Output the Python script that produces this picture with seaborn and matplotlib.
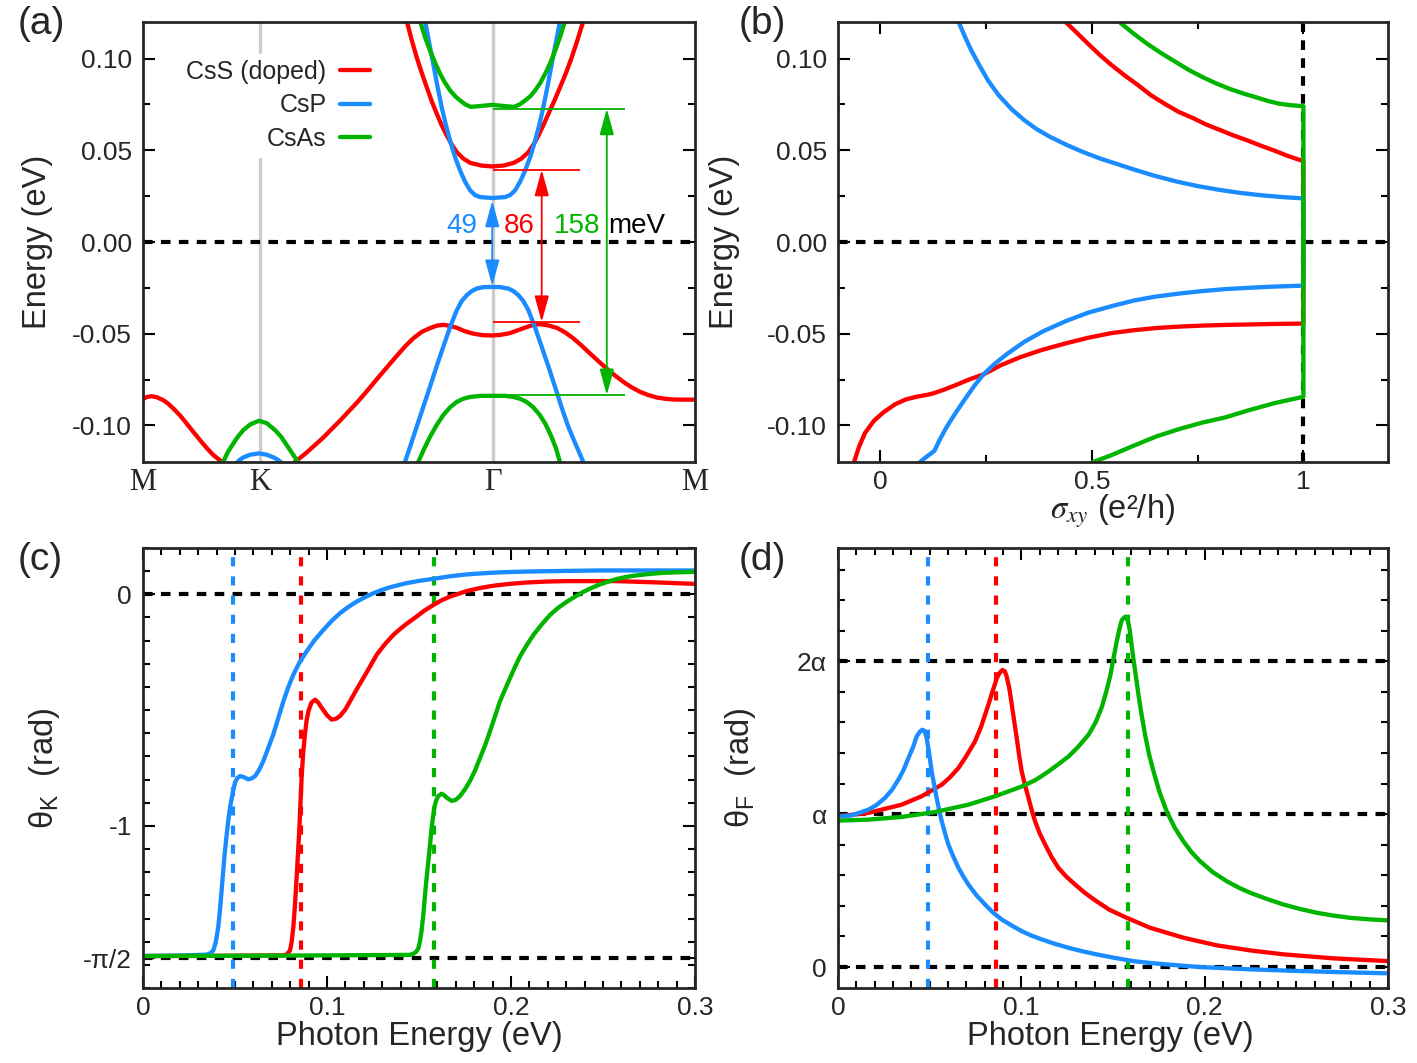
import matplotlib
matplotlib.use('Agg')
import matplotlib.pyplot as plt
import seaborn as sns
import numpy as np
import pandas as pd
from matplotlib.lines import Line2D
from matplotlib.ticker import MultipleLocator, FixedLocator, FixedFormatter

# ------------------------------------------------------------------ data
# (a) band structure: k-path coordinates M=0, K=0.5, Gamma=1.5, M=2.366
K_POS = [0.0, 0.5, 1.5, 2.366]
K_LABELS = ['M', 'K', 'Γ', 'M']

red_vb_k = [0.000, 0.018, 0.037, 0.060, 0.087, 0.108, 0.130, 0.158, 0.187, 0.215, 0.244, 0.272,
            0.301, 0.344, 0.40, 0.50, 0.60, 0.647, 0.700, 0.770, 0.844, 0.920, 0.960, 1.000,
            1.043, 1.087, 1.123, 1.159, 1.195, 1.230, 1.260, 1.287,
            1.316, 1.345, 1.380, 1.416, 1.455, 1.497, 1.535, 1.573, 1.610, 1.644, 1.672, 1.701,
            1.737, 1.773, 1.808, 1.844, 1.880, 1.916, 1.952, 1.987, 2.023, 2.059, 2.095, 2.130,
            2.166, 2.202, 2.237, 2.273, 2.320, 2.366]
red_vb_e = [-0.0856, -0.0845, -0.0841, -0.0847, -0.0863, -0.0882, -0.0908, -0.0945, -0.0990,
            -0.1035, -0.1080, -0.1122, -0.1162, -0.1204, -0.130, -0.133, -0.130, -0.1204,
            -0.1150, -0.1070, -0.0975, -0.0872, -0.0813, -0.0752, -0.0687, -0.0622, -0.0570,
            -0.0525, -0.0490, -0.0470, -0.0456, -0.0452,
            -0.0457, -0.0468, -0.0487, -0.0500, -0.0508, -0.0510, -0.0506, -0.0497, -0.0480,
            -0.0464, -0.0453, -0.0448, -0.0455, -0.0468, -0.0492, -0.0525, -0.0565, -0.0608,
            -0.0650, -0.0690, -0.0728, -0.0763, -0.0793, -0.0817, -0.0835, -0.0848, -0.0855,
            -0.0859, -0.0860, -0.0860]

blue_vb_k = [1.100, 1.123, 1.148, 1.173, 1.200, 1.230, 1.258, 1.287, 1.316, 1.345, 1.366, 1.388,
             1.409, 1.430, 1.460, 1.497, 1.530, 1.566, 1.588, 1.609, 1.630, 1.652, 1.680, 1.709,
             1.738, 1.766, 1.795, 1.823, 1.855, 1.887, 1.910]
blue_vb_e = [-0.126, -0.1199, -0.1105, -0.1008, -0.0905, -0.0790, -0.0680, -0.0572, -0.0465,
             -0.0372, -0.0322, -0.0290, -0.0268, -0.0254, -0.0246, -0.0245, -0.0246, -0.0254,
             -0.0268, -0.0290, -0.0322, -0.0372, -0.0465, -0.0572, -0.0680, -0.0790, -0.0905,
             -0.1008, -0.1105, -0.1199, -0.126]
blue_k_k = [0.370, 0.402, 0.415, 0.430, 0.460, 0.497, 0.530, 0.560, 0.578, 0.594, 0.620]
blue_k_e = [-0.126, -0.1204, -0.1188, -0.1175, -0.1160, -0.1153, -0.1160, -0.1175, -0.1188,
            -0.1204, -0.126]

green_vb_k = [1.160, 1.180, 1.205, 1.230, 1.258, 1.287, 1.316, 1.345, 1.373, 1.402, 1.450, 1.497,
              1.550, 1.587, 1.616, 1.644, 1.673, 1.701, 1.726, 1.751, 1.770, 1.787, 1.800]
green_vb_e = [-0.126, -0.1199, -0.1128, -0.1063, -0.1000, -0.0944, -0.0902, -0.0872, -0.0855,
              -0.0845, -0.0839, -0.0839, -0.0839, -0.0845, -0.0855, -0.0872, -0.0902, -0.0944,
              -0.0995, -0.1063, -0.1125, -0.1199, -0.126]
green_k_k = [0.320, 0.342, 0.364, 0.387, 0.408, 0.430, 0.460, 0.497, 0.530, 0.566, 0.592, 0.616,
             0.641, 0.666, 0.690]
green_k_e = [-0.126, -0.1204, -0.1145, -0.1099, -0.1060, -0.1026, -0.0995, -0.0975, -0.0988,
             -0.1026, -0.1062, -0.1108, -0.1155, -0.1204, -0.126]

red_cb_k = [1.130, 1.151, 1.173, 1.195, 1.216, 1.237, 1.259, 1.280, 1.302, 1.323, 1.345, 1.373,
            1.402, 1.450, 1.497, 1.545, 1.590, 1.622, 1.652, 1.674, 1.695, 1.716, 1.738, 1.763,
            1.788, 1.813, 1.838, 1.863, 1.888]
red_cb_e = [0.1208, 0.1105, 0.1008, 0.0922, 0.0845, 0.0770, 0.0700, 0.0637, 0.0581, 0.0532,
            0.0490, 0.0455, 0.0432, 0.0417, 0.0412, 0.0417, 0.0432, 0.0455, 0.0490, 0.0532,
            0.0581, 0.0637, 0.0700, 0.0770, 0.0845, 0.0922, 0.1008, 0.1105, 0.1208]
blue_cb_k = [1.209, 1.226, 1.244, 1.262, 1.280, 1.298, 1.316, 1.337, 1.359, 1.380, 1.402, 1.423,
             1.445, 1.497, 1.552, 1.574, 1.595, 1.617, 1.638, 1.660, 1.681, 1.699, 1.716, 1.734,
             1.752, 1.770, 1.788]
blue_cb_e = [0.1208, 0.1090, 0.0972, 0.0850, 0.0736, 0.0640, 0.0554, 0.0465, 0.0390, 0.0330,
             0.0282, 0.0256, 0.0245, 0.0240, 0.0245, 0.0256, 0.0282, 0.0330, 0.0390, 0.0465,
             0.0554, 0.0640, 0.0736, 0.0850, 0.0972, 0.1090, 0.1208]
green_cb_k = [1.187, 1.208, 1.230, 1.252, 1.273, 1.295, 1.316, 1.338, 1.359, 1.382, 1.405, 1.450,
              1.497, 1.545, 1.590, 1.614, 1.638, 1.660, 1.681, 1.703, 1.724, 1.746, 1.767, 1.788,
              1.809]
green_cb_e = [0.1208, 0.1120, 0.1045, 0.0978, 0.0918, 0.0868, 0.0827, 0.0795, 0.0772, 0.0750,
              0.0737, 0.0742, 0.0748, 0.0742, 0.0737, 0.0750, 0.0772, 0.0795, 0.0827, 0.0868,
              0.0918, 0.0978, 0.1045, 0.1120, 0.1208]

# gap annotations in (a): order blue, red, green
gap_labels = ['49', '86', '158']
gap_arrow_k = [1.497, 1.709, 1.988]
gap_top = [0.0225, 0.0394, 0.0727]
gap_bot = [-0.0240, -0.0436, -0.0835]
gap_line_end = [None, 1.873, 2.066]
gap_text_k = [1.366, 1.612, 1.859]
mev_text_k = 2.117
gap_text_e = 0.0087

# (b) sigma_xy vs energy (lower branch -> step at sigma=1 -> upper branch)
blue_sig = [0.094, 0.110, 0.128, 0.140, 0.158, 0.180, 0.201, 0.222, 0.244, 0.270, 0.300, 0.340,
            0.384, 0.440, 0.492, 0.550, 0.600, 0.650, 0.707, 0.760, 0.815, 0.870, 0.922, 0.960,
            1.000,
            1.000, 0.950, 0.900, 0.850, 0.800, 0.750, 0.700, 0.650, 0.600, 0.560, 0.520, 0.480,
            0.440, 0.400, 0.370, 0.340, 0.310, 0.280, 0.255, 0.235, 0.215, 0.200, 0.185]
blue_sig_e = [-0.120, -0.1170, -0.1139, -0.1080, -0.1004, -0.0925, -0.0854, -0.0785, -0.0722,
              -0.0665, -0.0610, -0.0545, -0.0488, -0.0430, -0.0385, -0.0348, -0.0319, -0.0298,
              -0.0281, -0.0268, -0.0257, -0.0250, -0.0244, -0.0241, -0.0238,
              0.0238, 0.0245, 0.0255, 0.0268, 0.0285, 0.0305, 0.0330, 0.0360, 0.0395, 0.0425,
              0.0455, 0.0490, 0.0530, 0.0575, 0.0615, 0.0665, 0.0725, 0.0800, 0.0880, 0.0960,
              0.1045, 0.1120, 0.1200]
red_sig = [-0.062, -0.050, -0.036, -0.015, 0.0075, 0.035, 0.061, 0.090, 0.110, 0.126, 0.150,
           0.180, 0.210, 0.244, 0.285, 0.330, 0.380, 0.438, 0.490, 0.546, 0.600, 0.653, 0.710,
           0.761, 0.820, 0.869, 0.930, 1.000,
           1.000, 0.965, 0.933, 0.900, 0.869, 0.835, 0.804, 0.770, 0.740, 0.705, 0.675, 0.640,
           0.610, 0.578, 0.546, 0.518, 0.492, 0.465, 0.438]
red_sig_e = [-0.120, -0.1115, -0.1041, -0.0975, -0.0929, -0.0885, -0.0858, -0.0842, -0.0834,
             -0.0825, -0.0806, -0.0779, -0.0750, -0.0722, -0.0672, -0.0629, -0.0590, -0.0553,
             -0.0523, -0.0497, -0.0481, -0.0469, -0.0461, -0.0456, -0.0452, -0.0450, -0.0447,
             -0.0445,
             0.0441, 0.0468, 0.0497, 0.0525, 0.0553, 0.0581, 0.0610, 0.0641, 0.0675, 0.0710,
             0.0750, 0.0800, 0.0854, 0.0908, 0.0966, 0.1022, 0.1079, 0.1140, 0.1200]
green_sig = [0.503, 0.546, 0.600, 0.653, 0.707, 0.761, 0.815, 0.869, 0.930, 1.000,
             1.000, 0.970, 0.944, 0.918, 0.890, 0.858, 0.826, 0.794, 0.761, 0.728, 0.696, 0.664,
             0.632, 0.598, 0.565]
green_sig_e = [-0.120, -0.1163, -0.1110, -0.1060, -0.1020, -0.0985, -0.0957, -0.0919, -0.0880,
               -0.0844,
               0.0741, 0.0746, 0.0754, 0.0768, 0.0788, 0.0810, 0.0835, 0.0865, 0.0900, 0.0940,
               0.0985, 0.1030, 0.1079, 0.1138, 0.1200]

# gaps (eV), order red, blue, green
gap_energy = [0.086, 0.049, 0.158]

# (c) Kerr angle (rad)
blue_wk = [0.000, 0.020, 0.0346, 0.0365, 0.0382, 0.0396, 0.0409, 0.0421, 0.0433, 0.0444, 0.0455,
           0.0466, 0.0476, 0.0488, 0.0500, 0.0513, 0.0527, 0.0550, 0.0572, 0.0590, 0.0609,
           0.0630, 0.0654, 0.0680, 0.0708, 0.0735, 0.0763, 0.0790, 0.0817, 0.0850, 0.0889,
           0.0930, 0.0980, 0.1025, 0.1070, 0.1115, 0.1160, 0.1205, 0.1250, 0.1295, 0.1340,
           0.1430, 0.1500, 0.1580, 0.1670, 0.1760, 0.1850, 0.1940, 0.2070, 0.2210, 0.2480,
           0.3000]
blue_tk = [-1.562, -1.560, -1.556, -1.550, -1.538, -1.500, -1.437, -1.340, -1.222, -1.120,
           -1.036, -0.960, -0.907, -0.855, -0.813, -0.793, -0.785, -0.790, -0.799, -0.795,
           -0.785, -0.760, -0.720, -0.665, -0.605, -0.535, -0.462, -0.400, -0.347, -0.295,
           -0.247, -0.200, -0.154, -0.115, -0.082, -0.055, -0.032, -0.013, 0.004, 0.018, 0.030,
           0.048, 0.058, 0.067, 0.078, 0.086, 0.091, 0.095, 0.098, 0.100, 0.103, 0.103]
red_wk = [0.000, 0.040, 0.076, 0.078, 0.0799, 0.0808, 0.0817, 0.0826, 0.0835, 0.0843, 0.0850,
          0.0856, 0.0862, 0.0870, 0.0880, 0.0889, 0.0899, 0.0915, 0.0935, 0.0953, 0.0971,
          0.1000, 0.1025, 0.1050, 0.1070, 0.1100, 0.1125, 0.1160, 0.1198, 0.1235, 0.1270,
          0.1315, 0.1361, 0.1397, 0.1433, 0.1487, 0.1530, 0.1578, 0.1620, 0.1668, 0.1759,
          0.1830, 0.1904, 0.1990, 0.2085, 0.2190, 0.2303, 0.2574, 0.2810, 0.3000]
red_tk = [-1.562, -1.561, -1.559, -1.556, -1.538, -1.500, -1.437, -1.340, -1.222, -1.110,
          -1.007, -0.900, -0.792, -0.690, -0.605, -0.545, -0.505, -0.468, -0.455, -0.468,
          -0.490, -0.522, -0.541, -0.537, -0.526, -0.497, -0.462, -0.412, -0.361, -0.310,
          -0.261, -0.215, -0.175, -0.150, -0.127, -0.096, -0.070, -0.046, -0.027, -0.010,
          0.014, 0.027, 0.037, 0.045, 0.051, 0.055, 0.057, 0.057, 0.051, 0.045]
green_wk = [0.000, 0.080, 0.1450, 0.1469, 0.1483, 0.1496, 0.1505, 0.1514, 0.1524, 0.1533,
            0.1542, 0.1551, 0.1560, 0.1569, 0.1578, 0.1587, 0.1596, 0.1605, 0.1623, 0.1636,
            0.1650, 0.1678, 0.1700, 0.1723, 0.1750, 0.1777, 0.1805, 0.1832, 0.1860, 0.1886,
            0.1913, 0.1940, 0.1968, 0.1995, 0.2022, 0.2049, 0.2085, 0.2122, 0.2167, 0.2212,
            0.2257, 0.2303, 0.2348, 0.2394, 0.2439, 0.2484, 0.2529, 0.2574, 0.2620, 0.2665,
            0.2740, 0.2810, 0.2900, 0.3000]
green_tk = [-1.562, -1.560, -1.557, -1.552, -1.545, -1.530, -1.500, -1.452, -1.380, -1.294,
            -1.220, -1.151, -1.080, -1.007, -0.950, -0.907, -0.885, -0.871, -0.861, -0.867,
            -0.878, -0.892, -0.887, -0.871, -0.842, -0.806, -0.760, -0.706, -0.650, -0.591,
            -0.527, -0.462, -0.410, -0.361, -0.313, -0.268, -0.220, -0.175, -0.130, -0.089,
            -0.058, -0.032, -0.010, 0.011, 0.028, 0.043, 0.055, 0.066, 0.074, 0.080, 0.087,
            0.092, 0.095, 0.097]

# (d) Faraday angle in units of alpha
blue_wf = [0.000, 0.0075, 0.0165, 0.0210, 0.0256, 0.0295, 0.0329, 0.0358, 0.0384, 0.0410,
           0.0429, 0.0447, 0.0460, 0.0472, 0.0484, 0.0497, 0.0511, 0.0525, 0.0538, 0.0552,
           0.0566, 0.0584, 0.0602, 0.0630, 0.0657, 0.0684, 0.0711, 0.0755, 0.0802, 0.0845,
           0.0893, 0.0950, 0.1002, 0.1055, 0.1111, 0.1180, 0.1257, 0.1330, 0.1402, 0.1500,
           0.1610, 0.1700, 0.1793, 0.1975, 0.2248, 0.2521, 0.2793, 0.3000]
blue_tf = [0.986, 0.992, 1.029, 1.060, 1.106, 1.160, 1.225, 1.290, 1.367, 1.440, 1.508, 1.540,
           1.552, 1.545, 1.497, 1.400, 1.279, 1.190, 1.106, 1.025, 0.953, 0.875, 0.801, 0.720,
           0.649, 0.592, 0.540, 0.470, 0.409, 0.357, 0.311, 0.270, 0.235, 0.206, 0.181, 0.153,
           0.126, 0.104, 0.085, 0.062, 0.039, 0.027, 0.017, 0.000, -0.015, -0.026, -0.035,
           -0.041]
red_wf = [0.000, 0.0165, 0.0347, 0.0456, 0.0566, 0.0610, 0.0657, 0.0700, 0.0747, 0.0780,
          0.0820, 0.0845, 0.0866, 0.0882, 0.0897, 0.0910, 0.0920, 0.0935, 0.0948, 0.0962,
          0.0975, 0.0988, 0.1002, 0.1020, 0.1039, 0.1057, 0.1075, 0.1100, 0.1130, 0.1165,
          0.1202, 0.1245, 0.1293, 0.1345, 0.1402, 0.1480, 0.1575, 0.1702, 0.1884, 0.2066,
          0.2248, 0.2430, 0.2703, 0.3000]
red_tf = [0.986, 1.008, 1.062, 1.117, 1.193, 1.240, 1.302, 1.380, 1.475, 1.570, 1.715, 1.810,
          1.889, 1.925, 1.943, 1.935, 1.900, 1.820, 1.715, 1.600, 1.497, 1.385, 1.279, 1.190,
          1.106, 1.025, 0.953, 0.875, 0.801, 0.720, 0.649, 0.592, 0.540, 0.487, 0.437, 0.375,
          0.322, 0.257, 0.192, 0.142, 0.109, 0.083, 0.057, 0.039]
green_wf = [0.000, 0.0165, 0.0347, 0.0529, 0.0711, 0.0857, 0.1002, 0.1080, 0.1148, 0.1200,
            0.1257, 0.1310, 0.1366, 0.1405, 0.1439, 0.1463, 0.1484, 0.1503, 0.1520, 0.1535,
            0.1548, 0.1566, 0.1580, 0.1590, 0.1600, 0.1611, 0.1625, 0.1639, 0.1656, 0.1675,
            0.1697, 0.1721, 0.1755, 0.1793, 0.1835, 0.1884, 0.1928, 0.1975, 0.2045, 0.2121,
            0.2185, 0.2248, 0.2340, 0.2430, 0.2520, 0.2612, 0.2700, 0.2793, 0.2900, 0.3000]
green_tf = [0.958, 0.964, 0.982, 1.014, 1.062, 1.117, 1.181, 1.225, 1.279, 1.325, 1.377, 1.440,
            1.519, 1.600, 1.700, 1.800, 1.900, 2.020, 2.128, 2.210, 2.270, 2.291, 2.270, 2.215,
            2.120, 2.019, 1.900, 1.780, 1.650, 1.519, 1.390, 1.279, 1.140, 1.018, 0.915, 0.822,
            0.752, 0.692, 0.620, 0.561, 0.520, 0.486, 0.445, 0.409, 0.380, 0.355, 0.337, 0.322,
            0.312, 0.305]

legend_labels = ['CsS (doped)', 'CsP', 'CsAs']
E_TICKS = [-0.10, -0.05, 0.00, 0.05, 0.10]
E_TICKLABELS = ['-0.10', '-0.05', '0.00', '0.05', '0.10']
SIG_TICKS = [0, 0.5, 1]
SIG_TICKLABELS = ['0', '0.5', '1']
W_TICKS = [0, 0.1, 0.2, 0.3]
W_TICKLABELS = ['0', '0.1', '0.2', '0.3']
TK_TICKS = [-np.pi / 2, -1, 0]
TK_TICKLABELS = ['-π/2', '-1', '0']
TF_TICKS = [0, 1, 2]
TF_TICKLABELS = ['0', 'α', '2α']

# ------------------------------------------------------------------ style
sns.set_style('ticks')
plt.rcParams['font.family'] = ['Liberation Sans', 'DejaVu Sans']
plt.rcParams['mathtext.fontset'] = 'custom'
plt.rcParams['mathtext.rm'] = 'Liberation Sans'
plt.rcParams['mathtext.it'] = 'Liberation Sans:italic'
plt.rcParams['axes.unicode_minus'] = False

RED, BLUE, GREEN = '#ff0000', '#1a8cff', '#00b400'
GRAY = '#cccccc'
TICK, LAB, PANEL, LEG, ANN = 19, 23.5, 28, 18, 20
LW = 3.1
DLW = 3.0
DASH = (2.3, 2.0)
CDASH = (2.2, 2.4)

W, H = 1417, 1063
fig = plt.figure(figsize=(W / 100, H / 100), dpi=100)


def add_axes(l, t, r, b):
    return fig.add_axes([l / W, 1 - b / H, (r - l) / W, (b - t) / H])


axA = add_axes(143, 22, 695, 462)
axB = add_axes(838, 22, 1388, 462)
axC = add_axes(143, 548, 695, 988)
axD = add_axes(838, 548, 1388, 988)


def draw(ax, x, y, color, z=3.0, lw=LW):
    df = pd.DataFrame({'x': x, 'y': y})
    sns.lineplot(data=df, x='x', y='y', sort=False, estimator=None, color=color,
                 linewidth=lw, ax=ax, zorder=z, solid_joinstyle='round')
    ax.set_xlabel('')
    ax.set_ylabel('')


def style_axes(ax):
    for s in ax.spines.values():
        s.set_linewidth(2.0)
        s.set_zorder(10)
    ax.tick_params(which='both', direction='in', top=True, right=True, width=1.5,
                   labelsize=TICK, color='black')
    ax.tick_params(which='major', length=8.5)
    ax.tick_params(which='minor', length=5)
    ax.tick_params(axis='y', pad=8)
    ax.tick_params(axis='x', pad=6)


# ---------------------------------------------------------------- (a)
ax = axA
ax.axvline(K_POS[1], color=GRAY, lw=2.4, zorder=0.8)
ax.axvline(K_POS[2], color=GRAY, lw=2.4, zorder=0.8)
ax.axhline(0, color='black', lw=DLW, dashes=DASH, zorder=1)
draw(ax, red_vb_k, red_vb_e, RED, 3.0)
draw(ax, red_cb_k, red_cb_e, RED, 3.0)
draw(ax, blue_vb_k, blue_vb_e, BLUE, 3.1)
draw(ax, blue_k_k, blue_k_e, BLUE, 3.1)
draw(ax, blue_cb_k, blue_cb_e, BLUE, 3.1)
draw(ax, green_vb_k, green_vb_e, GREEN, 3.2)
draw(ax, green_k_k, green_k_e, GREEN, 3.2)
draw(ax, green_cb_k, green_cb_e, GREEN, 3.2)

arrow_cols = [BLUE, RED, GREEN]
for i, c in enumerate(arrow_cols):
    if gap_line_end[i] is not None:
        ax.hlines([gap_top[i], gap_bot[i]], K_POS[2], gap_line_end[i], color=c, lw=1.3, zorder=4)
    ax.annotate('', xy=(gap_arrow_k[i], gap_bot[i]), xytext=(gap_arrow_k[i], gap_top[i]),
                arrowprops=dict(arrowstyle='<|-|>,head_length=0.8,head_width=0.22', color=c,
                                lw=1.3, shrinkA=0, shrinkB=0, mutation_scale=20), zorder=4)
    ax.text(gap_text_k[i], gap_text_e, gap_labels[i], color=c, fontsize=ANN,
            ha='center', va='center', zorder=5)
ax.text(mev_text_k, gap_text_e, 'meV', color='black', fontsize=ANN, ha='center',
        va='center', zorder=5)

ax.set_xlim(K_POS[0], K_POS[-1])
ax.set_ylim(-0.12, 0.12)
style_axes(ax)
ax.yaxis.set_major_locator(FixedLocator(E_TICKS))
ax.yaxis.set_major_formatter(FixedFormatter(E_TICKLABELS))
ax.yaxis.set_minor_locator(MultipleLocator(0.025))
ax.set_xticks(K_POS)
ax.set_xticklabels(K_LABELS, fontfamily='Liberation Serif', fontsize=22)
ax.tick_params(axis='x', which='both', length=0, top=False, pad=4)

handles = [Line2D([], [], color=c, lw=LW) for c in [RED, BLUE, GREEN]]
leg = ax.legend(handles, legend_labels, loc='upper right', bbox_to_anchor=(0.423, 0.928),
                borderaxespad=0, frameon=True, fancybox=False, framealpha=1,
                facecolor='white', edgecolor='white', fontsize=LEG, markerfirst=False,
                handlelength=1.2, handletextpad=0.55, labelspacing=0.38, borderpad=0.25)
leg.set_zorder(6)

# ---------------------------------------------------------------- (b)
ax = axB
ax.axhline(0, color='black', lw=DLW, dashes=DASH, zorder=1)
ax.axvline(1.0, color='black', lw=DLW, dashes=DASH, zorder=1)
draw(ax, red_sig, red_sig_e, RED, 3.0)
draw(ax, blue_sig, blue_sig_e, BLUE, 3.1)
draw(ax, green_sig, green_sig_e, GREEN, 3.2)
ax.set_xlim(-0.1, 1.2)
ax.set_ylim(-0.12, 0.12)
style_axes(ax)
ax.yaxis.set_major_locator(FixedLocator(E_TICKS))
ax.yaxis.set_major_formatter(FixedFormatter(E_TICKLABELS))
ax.yaxis.set_minor_locator(MultipleLocator(0.025))
ax.xaxis.set_major_locator(FixedLocator(SIG_TICKS))
ax.xaxis.set_major_formatter(FixedFormatter(SIG_TICKLABELS))
ax.xaxis.set_minor_locator(FixedLocator([0.25, 0.75]))

# ---------------------------------------------------------------- (c)
ax = axC
ax.axhline(0, color='black', lw=DLW, dashes=DASH, zorder=1)
ax.axhline(-np.pi / 2, color='black', lw=DLW, dashes=DASH, zorder=1)
for g, c in zip(gap_energy, [RED, BLUE, GREEN]):
    ax.axvline(g, color=c, lw=DLW, dashes=CDASH, zorder=1.5)
draw(ax, red_wk, red_tk, RED, 3.0)
draw(ax, blue_wk, blue_tk, BLUE, 3.1)
draw(ax, green_wk, green_tk, GREEN, 3.2)
ax.set_xlim(0, 0.3)
ax.set_ylim(-1.7, 0.2)
style_axes(ax)
ax.xaxis.set_major_locator(FixedLocator(W_TICKS))
ax.xaxis.set_major_formatter(FixedFormatter(W_TICKLABELS))
ax.xaxis.set_minor_locator(MultipleLocator(0.01))
ax.yaxis.set_major_locator(FixedLocator(TK_TICKS))
ax.yaxis.set_major_formatter(FixedFormatter(TK_TICKLABELS))
ax.yaxis.set_minor_locator(MultipleLocator(0.1))

# ---------------------------------------------------------------- (d)
ax = axD
for v in TF_TICKS:
    ax.axhline(v, color='black', lw=DLW, dashes=DASH, zorder=1)
for g, c in zip(gap_energy, [RED, BLUE, GREEN]):
    ax.axvline(g, color=c, lw=DLW, dashes=CDASH, zorder=1.5)
draw(ax, red_wf, red_tf, RED, 3.0)
draw(ax, blue_wf, blue_tf, BLUE, 3.1)
draw(ax, green_wf, green_tf, GREEN, 3.2)
ax.set_xlim(0, 0.3)
ax.set_ylim(-0.137, 2.741)
style_axes(ax)
ax.xaxis.set_major_locator(FixedLocator(W_TICKS))
ax.xaxis.set_major_formatter(FixedFormatter(W_TICKLABELS))
ax.xaxis.set_minor_locator(MultipleLocator(0.01))
ax.yaxis.set_major_locator(FixedLocator(TF_TICKS))
ax.yaxis.set_major_formatter(FixedFormatter(TF_TICKLABELS))
ax.yaxis.set_minor_locator(MultipleLocator(0.2))

# ---------------------------------------------------------------- labels
def ftext(x, y, s, **kw):
    fig.text(x / W, 1 - y / H, s, ha='center', va='center', **kw)


ftext(38, 242, 'Energy (eV)', fontsize=LAB, rotation=90)
ftext(725, 242, 'Energy (eV)', fontsize=LAB, rotation=90)
ftext(45, 768, r'θ$_\mathrm{K}$  (rad)', fontsize=LAB, rotation=90)
ftext(741, 768, r'θ$_\mathrm{F}$  (rad)', fontsize=LAB, rotation=90)
ftext(1113, 511, r'$\sigma_{xy}$ (e²/h)', fontsize=LAB, math_fontfamily='stix')
ftext(419, 1036, 'Photon Energy (eV)', fontsize=LAB)
ftext(1110, 1036, 'Photon Energy (eV)', fontsize=LAB)
ftext(41, 24, '(a)', fontsize=PANEL)
ftext(762, 24, '(b)', fontsize=PANEL)
ftext(40, 560, '(c)', fontsize=PANEL)
ftext(762, 560, '(d)', fontsize=PANEL)

fig.savefig('out.png', dpi=100)
